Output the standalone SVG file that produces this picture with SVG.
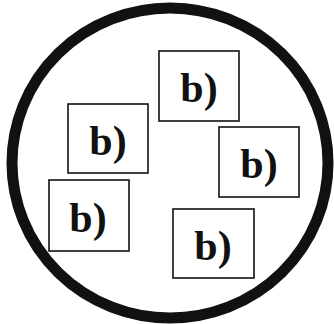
<svg xmlns="http://www.w3.org/2000/svg" width="334" height="324" viewBox="0 0 334 324">
<style>
.box{fill:none;stroke:#111;stroke-width:1.6}
.lbl{font-family:"Liberation Serif","Times New Roman",serif;font-weight:bold;font-size:42px;fill:#111;text-anchor:middle}
</style>
<rect width="334" height="324" fill="#fff"/>
<g id="boundary"><ellipse cx="170" cy="163" rx="158" ry="155" fill="none" stroke="#111" stroke-width="11"/></g>
<g id="n1"><rect class="box" x="159" y="51" width="80" height="70"/><text class="lbl" x="199" y="102">b)</text></g>
<g id="n2"><rect class="box" x="68" y="104" width="80" height="69"/><text class="lbl" x="108" y="155">b)</text></g>
<g id="n3"><rect class="box" x="219" y="127" width="80" height="70"/><text class="lbl" x="259" y="178">b)</text></g>
<g id="n4"><rect class="box" x="49" y="180" width="80" height="71"/><text class="lbl" x="88" y="232">b)</text></g>
<g id="n5"><rect class="box" x="173" y="209" width="81" height="69"/><text class="lbl" x="213" y="260">b)</text></g>
<g id="connectors"></g>
</svg>
